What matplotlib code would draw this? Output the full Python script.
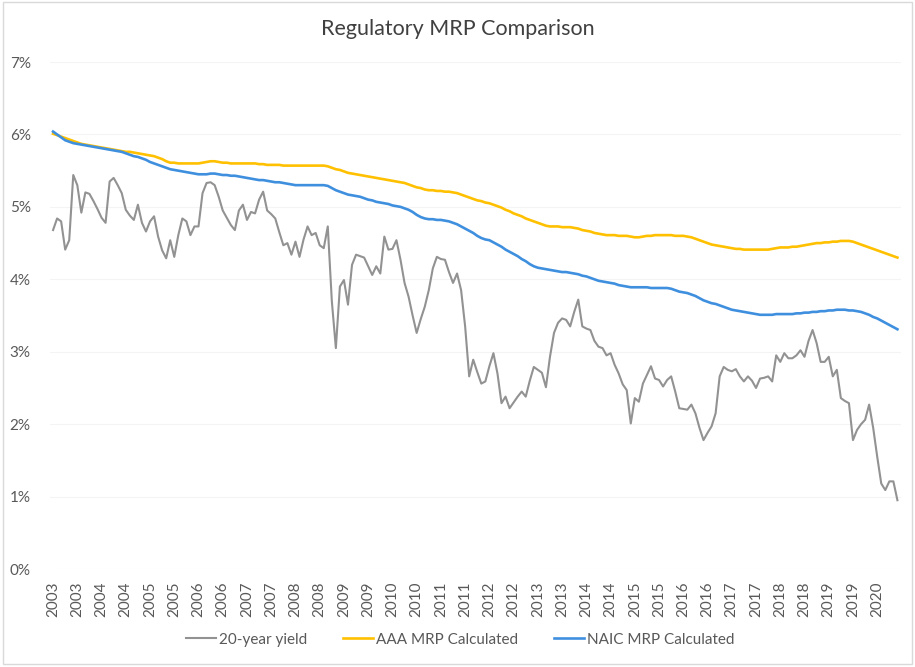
import matplotlib
matplotlib.use("Agg")
import matplotlib.pyplot as plt
from matplotlib.patches import Rectangle
import numpy as np

plt.rcParams['font.family'] = ['Lato', 'DejaVu Sans']

# monthly values, Jan 2003 .. Jun 2020 (percent)
yield_20y = [
    4.68, 4.84, 4.80, 4.41, 4.54, 5.44, 5.30, 4.92, 5.20, 5.18, 5.08, 4.97,
    4.85, 4.78, 5.35, 5.40, 5.30, 5.19, 4.96, 4.88, 4.82, 5.03, 4.78, 4.66,
    4.80, 4.87, 4.59, 4.40, 4.29, 4.54, 4.31, 4.61, 4.84, 4.80, 4.61, 4.73,
    4.73, 5.19, 5.33, 5.34, 5.30, 5.14, 4.95, 4.85, 4.75, 4.68, 4.95, 5.03,
    4.82, 4.93, 4.91, 5.10, 5.21, 4.95, 4.90, 4.84, 4.65, 4.47, 4.50, 4.34,
    4.52, 4.31, 4.55, 4.73, 4.61, 4.64, 4.47, 4.43, 4.73, 3.70, 3.05, 3.90,
    3.99, 3.65, 4.20, 4.34, 4.32, 4.30, 4.18, 4.06, 4.18, 4.08, 4.59, 4.41,
    4.42, 4.54, 4.27, 3.95, 3.76, 3.50, 3.26, 3.45, 3.62, 3.85, 4.15, 4.31,
    4.28, 4.27, 4.10, 3.95, 4.08, 3.85, 3.35, 2.66, 2.89, 2.72, 2.56, 2.59,
    2.80, 2.98, 2.70, 2.29, 2.38, 2.22, 2.30, 2.38, 2.45, 2.38, 2.60, 2.79,
    2.75, 2.71, 2.51, 2.93, 3.26, 3.40, 3.46, 3.44, 3.35, 3.55, 3.72, 3.35,
    3.32, 3.30, 3.15, 3.07, 3.05, 2.95, 2.98, 2.82, 2.70, 2.55, 2.47, 2.01,
    2.36, 2.31, 2.56, 2.68, 2.80, 2.63, 2.61, 2.52, 2.61, 2.66, 2.45, 2.22,
    2.21, 2.20, 2.27, 2.15, 1.95, 1.78, 1.88, 1.97, 2.15, 2.66, 2.79, 2.75,
    2.73, 2.76, 2.66, 2.59, 2.66, 2.60, 2.50, 2.63, 2.64, 2.66, 2.59, 2.95,
    2.86, 2.98, 2.91, 2.91, 2.95, 3.02, 2.93, 3.15, 3.30, 3.12, 2.86, 2.86,
    2.93, 2.66, 2.75, 2.36, 2.32, 2.29, 1.78, 1.92, 2.00, 2.06, 2.27, 1.95,
    1.55, 1.18, 1.09, 1.21, 1.21, 0.95,
]

aaa_mrp = [
    6.01, 5.99, 5.97, 5.95, 5.93, 5.91, 5.89, 5.87, 5.86, 5.85, 5.84, 5.83,
    5.82, 5.81, 5.80, 5.79, 5.78, 5.77, 5.76, 5.76, 5.75, 5.74, 5.73, 5.72,
    5.71, 5.70, 5.68, 5.66, 5.63, 5.61, 5.61, 5.60, 5.60, 5.60, 5.60, 5.60,
    5.60, 5.61, 5.62, 5.63, 5.63, 5.62, 5.61, 5.61, 5.60, 5.60, 5.60, 5.60,
    5.60, 5.60, 5.60, 5.59, 5.59, 5.58, 5.58, 5.58, 5.58, 5.57, 5.57, 5.57,
    5.57, 5.57, 5.57, 5.57, 5.57, 5.57, 5.57, 5.57, 5.56, 5.54, 5.52, 5.51,
    5.49, 5.47, 5.46, 5.45, 5.44, 5.43, 5.42, 5.41, 5.40, 5.39, 5.38, 5.37,
    5.36, 5.35, 5.34, 5.33, 5.31, 5.29, 5.27, 5.26, 5.24, 5.23, 5.23, 5.22,
    5.22, 5.21, 5.21, 5.20, 5.19, 5.17, 5.15, 5.13, 5.11, 5.09, 5.08, 5.06,
    5.05, 5.03, 5.01, 4.99, 4.96, 4.94, 4.91, 4.89, 4.87, 4.84, 4.82, 4.80,
    4.78, 4.76, 4.74, 4.73, 4.73, 4.73, 4.72, 4.72, 4.72, 4.71, 4.70, 4.68,
    4.67, 4.66, 4.64, 4.63, 4.62, 4.61, 4.61, 4.61, 4.60, 4.60, 4.60, 4.59,
    4.58, 4.58, 4.59, 4.60, 4.60, 4.61, 4.61, 4.61, 4.61, 4.61, 4.60, 4.60,
    4.60, 4.59, 4.58, 4.56, 4.54, 4.52, 4.50, 4.48, 4.47, 4.46, 4.45, 4.44,
    4.43, 4.42, 4.42, 4.41, 4.41, 4.41, 4.41, 4.41, 4.41, 4.41, 4.42, 4.43,
    4.44, 4.44, 4.44, 4.45, 4.45, 4.46, 4.47, 4.48, 4.49, 4.50, 4.50, 4.51,
    4.51, 4.52, 4.52, 4.53, 4.53, 4.53, 4.52, 4.50, 4.48, 4.46, 4.44, 4.42,
    4.40, 4.38, 4.36, 4.34, 4.32, 4.30,
]

naic_mrp = [
    6.04, 6.00, 5.96, 5.92, 5.90, 5.88, 5.87, 5.86, 5.85, 5.84, 5.83, 5.82,
    5.81, 5.80, 5.79, 5.78, 5.77, 5.76, 5.74, 5.72, 5.70, 5.69, 5.67, 5.65,
    5.62, 5.60, 5.58, 5.56, 5.54, 5.52, 5.51, 5.50, 5.49, 5.48, 5.47, 5.46,
    5.45, 5.45, 5.45, 5.46, 5.46, 5.45, 5.44, 5.44, 5.43, 5.43, 5.42, 5.41,
    5.40, 5.39, 5.38, 5.37, 5.37, 5.36, 5.35, 5.34, 5.34, 5.33, 5.32, 5.31,
    5.30, 5.30, 5.30, 5.30, 5.30, 5.30, 5.30, 5.30, 5.29, 5.26, 5.23, 5.21,
    5.19, 5.17, 5.16, 5.15, 5.14, 5.12, 5.10, 5.09, 5.07, 5.06, 5.05, 5.04,
    5.02, 5.01, 5.00, 4.98, 4.96, 4.93, 4.89, 4.86, 4.84, 4.83, 4.83, 4.82,
    4.82, 4.81, 4.80, 4.78, 4.76, 4.73, 4.70, 4.67, 4.64, 4.60, 4.57, 4.55,
    4.54, 4.51, 4.48, 4.45, 4.41, 4.38, 4.35, 4.32, 4.28, 4.25, 4.21, 4.18,
    4.16, 4.15, 4.14, 4.13, 4.12, 4.11, 4.10, 4.10, 4.09, 4.08, 4.07, 4.05,
    4.04, 4.02, 4.00, 3.98, 3.97, 3.96, 3.95, 3.94, 3.92, 3.91, 3.90, 3.89,
    3.89, 3.89, 3.89, 3.89, 3.88, 3.88, 3.88, 3.88, 3.88, 3.87, 3.85, 3.83,
    3.82, 3.81, 3.79, 3.77, 3.74, 3.71, 3.69, 3.67, 3.66, 3.64, 3.62, 3.60,
    3.58, 3.57, 3.56, 3.55, 3.54, 3.53, 3.52, 3.51, 3.51, 3.51, 3.51, 3.52,
    3.52, 3.52, 3.52, 3.52, 3.53, 3.53, 3.54, 3.54, 3.55, 3.55, 3.56, 3.56,
    3.57, 3.57, 3.58, 3.58, 3.58, 3.57, 3.57, 3.56, 3.55, 3.53, 3.51, 3.48,
    3.46, 3.43, 3.40, 3.37, 3.34, 3.31,
]

# one label every 6 months
tick_labels = ["2003", "2003", "2004", "2004", "2005", "2005", "2006", "2006",
               "2007", "2007", "2008", "2008", "2009", "2009", "2010", "2010",
               "2011", "2011", "2012", "2012", "2013", "2013", "2014", "2014",
               "2015", "2015", "2016", "2016", "2017", "2017", "2018", "2018",
               "2019", "2019", "2020"]
y_ticks = [0, 1, 2, 3, 4, 5, 6, 7]

text_col = "#595959"

fig = plt.figure(figsize=(9.15, 6.67), dpi=100)
# light chart border
fig.patches.append(Rectangle((0.003, 0.004), 0.994, 0.993, transform=fig.transFigure,
                             fill=False, edgecolor="#D9D9D9", linewidth=1.0))

ax = fig.add_axes([0.0549, 0.1469, 0.9303, 0.7601])
x = np.arange(len(yield_20y))
ax.plot(x, yield_20y, color="#929292", linewidth=1.5, label="20-year yield")
ax.plot(x, aaa_mrp, color="#FFC000", linewidth=1.9, label="AAA MRP Calculated")
ax.plot(x, naic_mrp, color="#3F8FDF", linewidth=1.9, label="NAIC MRP Calculated")

ax.set_xlim(-0.7, 210)
ax.set_ylim(0, 7)
ax.set_yticks(y_ticks)
ax.set_yticklabels([f"{v}%" for v in y_ticks])
ax.set_xticks(x[::6][:len(tick_labels)])
ax.set_xticklabels(tick_labels, rotation=90)
ax.tick_params(axis="both", length=0, labelsize=11, colors=text_col)
ax.tick_params(axis="y", pad=14)
ax.tick_params(axis="x", pad=9)
for lbl in ax.get_yticklabels():
    lbl.set_horizontalalignment("right")
ax.yaxis.grid(True, color="#F4F4F4", linewidth=0.8)
ax.set_axisbelow(True)
for s in ax.spines.values():
    s.set_visible(False)

fig.text(0.5, 0.957, "Regulatory MRP Comparison", ha="center", va="center",
         fontsize=15.5, color="#404040")
fig.legend(loc="center", bbox_to_anchor=(0.503, 0.041), ncol=3, frameon=False,
           fontsize=11, labelcolor=text_col, handlelength=2.0, handletextpad=0.2,
           columnspacing=2.3)

plt.savefig("out.png", dpi=100)
